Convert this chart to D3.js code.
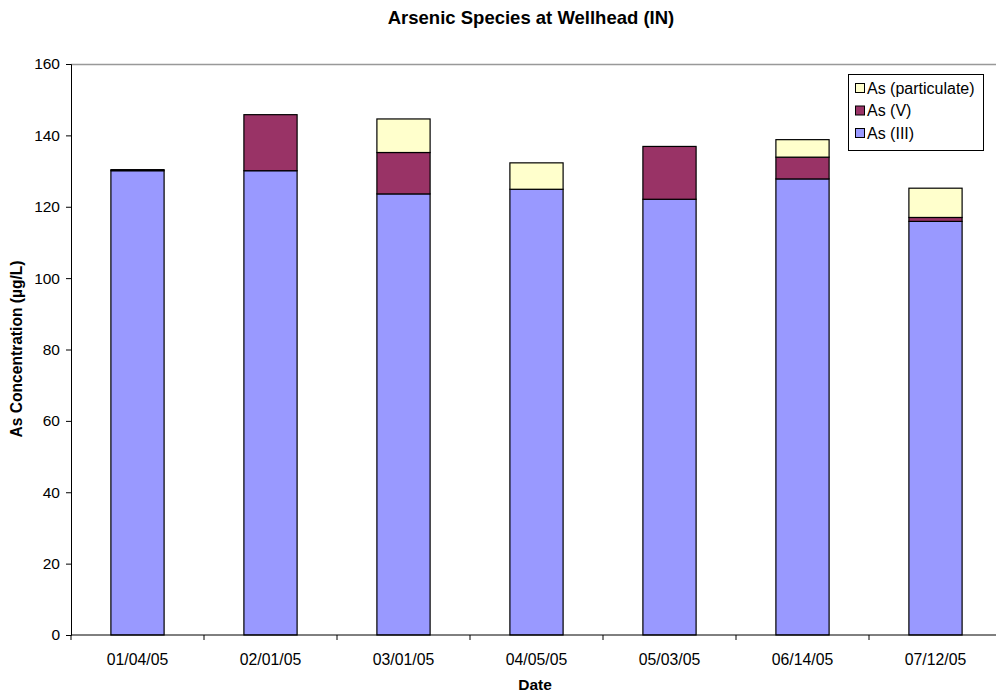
<!DOCTYPE html>
<html><head><meta charset="utf-8">
<script src="https://cdn.jsdelivr.net/npm/d3@7"></script>
<style>body{margin:0;background:#fff}svg{display:block;font-family:Arial,"Liberation Sans",sans-serif}</style>
</head><body><svg id="c" width="996" height="698"></svg>
<script>
const dates = ["01/04/05","02/01/05","03/01/05","04/05/05","05/03/05","06/14/05","07/12/05"];
const asIII = [130.1, 130.1, 123.6, 124.9, 122.1, 127.8, 115.9];
const asV = [0.3, 15.7, 11.6, 0, 14.8, 6.1, 1.1];
const asPart = [0, 0, 9.4, 7.4, 0, 4.9, 8.2];
const seriesNames = ["As (III)","As (V)","As (particulate)"];
const colors = ["#9999FF","#993366","#FFFFCC"];
const yTicks = [0,20,40,60,80,100,120,140,160];

const svg = d3.select("#c");
const x0 = 71, x1 = 1002, yTop = 64, yBot = 635;
const x = d3.scaleBand().domain(dates).range([x0,x1]).padding(0);
const y = d3.scaleLinear().domain([0,160]).range([yBot,yTop]);

const rows = dates.map((d,i)=>({date:d, "As (III)":asIII[i], "As (V)":asV[i], "As (particulate)":asPart[i]}));
const stack = d3.stack().keys(seriesNames)(rows);

// top border of plot area
svg.append("line").attr("x1",x0).attr("x2",996).attr("y1",yTop+0.5).attr("y2",yTop+0.5).attr("stroke","#999").attr("stroke-width",1.5);

const bw = x.bandwidth()*0.4;
stack.forEach((s,si)=>{
  svg.append("g").selectAll("rect").data(s).join("rect")
    .attr("x",(d,i)=>x(dates[i])+x.bandwidth()*0.3)
    .attr("width",bw)
    .attr("y",d=>y(d[1]))
    .attr("height",d=>Math.max(0,y(d[0])-y(d[1])))
    .attr("fill",colors[si]).attr("stroke","#000").attr("stroke-width",1.2)
    .style("display",d=>(d[1]-d[0])>0?null:"none");
});

// y axis
const ya = svg.append("g").attr("transform",`translate(${x0},0)`)
  .call(d3.axisLeft(y).tickValues(yTicks).tickSize(5).tickPadding(6));
ya.select(".domain").attr("stroke","#000");
ya.selectAll(".tick line").attr("stroke","#000");
ya.selectAll("text").attr("font-size",15.5).attr("fill","#000").attr("font-family","Arial,'Liberation Sans',sans-serif");

// x axis
const xa = svg.append("g").attr("transform",`translate(0,${yBot})`);
xa.append("line").attr("x1",x0).attr("x2",996).attr("stroke","#000");
const bounds = dates.map(d=>x(d)).concat([x1]);
xa.selectAll("line.t").data(bounds).join("line").attr("class","t")
  .attr("x1",d=>d).attr("x2",d=>d).attr("y1",0).attr("y2",5).attr("stroke","#000");
xa.selectAll("text").data(dates).join("text")
  .attr("x",d=>x(d)+x.bandwidth()/2).attr("y",29.5).attr("text-anchor","middle")
  .attr("font-size",15.8).text(d=>d);

// titles
svg.append("text").attr("x",531).attr("y",24).attr("text-anchor","middle").attr("font-size",18.5).attr("font-weight","bold").text("Arsenic Species at Wellhead (IN)");
svg.append("text").attr("x",535).attr("y",690).attr("text-anchor","middle").attr("font-size",15.5).attr("font-weight","bold").text("Date");
svg.append("text").attr("transform","translate(22,349) rotate(-90)").attr("text-anchor","middle").attr("font-size",15.6).attr("font-weight","bold").text("As Concentration (µg/L)");

// legend
const lg = svg.append("g");
lg.append("rect").attr("x",848.5).attr("y",74.5).attr("width",135).attr("height",76).attr("fill","#fff").attr("stroke","#000");
const legOrder = [2,1,0];
legOrder.forEach((si,k)=>{
  const ly = 88 + k*22.5;
  lg.append("rect").attr("x",855.5).attr("y",ly-4.5).attr("width",9).attr("height",9).attr("fill",colors[si]).attr("stroke","#000");
  lg.append("text").attr("x",867).attr("y",ly+5.5).attr("font-size",16).text(seriesNames[si]);
});
</script></body></html>
